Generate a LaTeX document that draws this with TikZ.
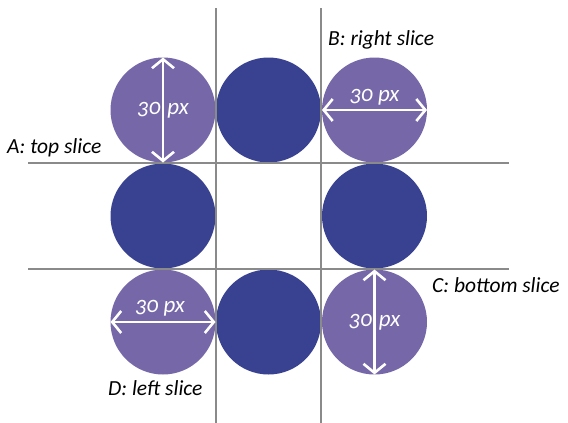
\documentclass[tikz,border=0pt]{standalone}
\usepackage{fontspec}
\setmainfont{Carlito}[Numbers=OldStyle]
\usepackage{xcolor}
\usetikzlibrary{arrows.meta}

\definecolor{lightdot}{RGB}{117,103,168}
\definecolor{darkdot}{RGB}{57,65,145}
\definecolor{sliceline}{RGB}{138,138,138}

\begin{document}
\begin{tikzpicture}[
  x=1pt, y=-1pt,
  dot/.style={circle, inner sep=0pt, outer sep=0pt, minimum size=105pt},
  light/.style={dot, fill=lightdot},
  dark/.style={dot, fill=darkdot},
  cut/.style={draw=sliceline, line width=2pt},
  dim/.style={{Straight Barb[length=9pt,width=22pt]}-{Straight Barb[length=9pt,width=22pt]},
    white, line width=2.6pt},
  lbl/.style={font=\fontsize{21.5}{26}\selectfont\itshape, inner sep=0pt},
  px/.style={lbl, font=\fontsize{23}{27}\selectfont\itshape, text=white}
]
\useasboundingbox (0,0) rectangle (568,423);
% the eight dots
\node[light] (tl) at (163,110) {};
\node[dark]  (tm) at (268.5,110) {};
\node[light] (tr) at (374.5,110) {};
\node[dark]  (ml) at (163,216) {};
\node[dark]  (mr) at (374.5,216) {};
\node[light] (bl) at (163,322) {};
\node[dark]  (bm) at (268.5,322) {};
\node[light] (br) at (374.5,322) {};
% slice lines
\coordinate (v1a) at (216,8);   \coordinate (v1b) at (216,423);
\coordinate (v2a) at (321,8);   \coordinate (v2b) at (321,423);
\coordinate (h1a) at (28,163);  \coordinate (h1b) at (509,163);
\coordinate (h2a) at (28,269);  \coordinate (h2b) at (509,269);
\draw[cut] (v1a) -- (v1b);
\draw[cut] (v2a) -- (v2b);
\draw[cut] (h1a) -- (h1b);
\draw[cut] (h2a) -- (h2b);
% sizes
\node[px] (tlpx) at (tl) {30\hspace{7pt}px};
\node[px] (trpx) at ([yshift=13pt]tr) {30 px};
\node[px] (blpx) at ([yshift=14pt,xshift=-3pt]bl) {30 px};
\node[px] (brpx) at (br) {30\hspace{7pt}px};
\draw[dim] (tl.north) -- (tl.south);
\draw[dim] (tr.west) -- (tr.east);
\draw[dim] (bl.west) -- (bl.east);
\draw[dim] (br.north) -- (br.south);
% slice names
\node[lbl, anchor=west] (a) at (7,148) {A: top slice};
\node[lbl, anchor=west] (b) at (328,40) {B: right slice};
\node[lbl, anchor=west] (c) at (432,285) {C: bottom slice};
\node[lbl, anchor=west] (d) at (108,388) {D: left slice};
\end{tikzpicture}
\end{document}
